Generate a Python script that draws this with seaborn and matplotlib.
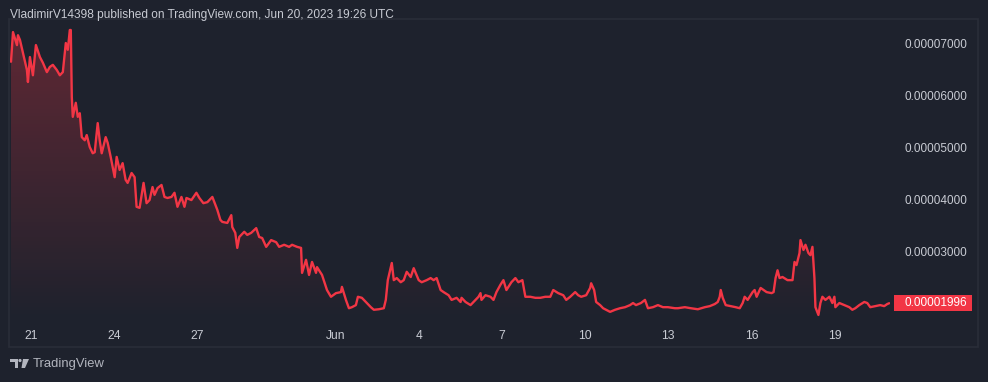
import numpy as np
import pandas as pd
import seaborn as sns
import matplotlib.pyplot as plt
from matplotlib.colors import LinearSegmentedColormap
from matplotlib.patches import Rectangle, Polygon, Circle
from matplotlib.transforms import blended_transform_factory, Affine2D

# data (days after May 21 2023, price in units of 1e-5)
start = pd.Timestamp("2023-05-21")
day_offset = [-0.719, -0.647, -0.504, -0.468, -0.396, -0.288, -0.144, -0.108, -0.036, 0.072,
              0.180, 0.324, 0.432, 0.576, 0.683, 0.791, 0.935, 1.043, 1.151, 1.259,
              1.331, 1.403, 1.439, 1.475, 1.511, 1.619, 1.691, 1.763, 1.835, 1.942,
              2.014, 2.122, 2.230, 2.302, 2.410, 2.482, 2.554, 2.698, 2.770, 2.878,
              3.022, 3.094, 3.201, 3.309, 3.417, 3.489, 3.633, 3.741, 3.813, 3.921,
              4.065, 4.173, 4.281, 4.388, 4.460, 4.568, 4.712, 4.820, 4.928, 5.072,
              5.180, 5.288, 5.432, 5.540, 5.612, 5.791, 5.971, 6.079, 6.223, 6.367,
              6.547, 6.727, 6.835, 6.906, 7.086, 7.230, 7.266, 7.374, 7.446, 7.518,
              7.698, 7.806, 7.950, 8.129, 8.237, 8.345, 8.489, 8.669, 8.849, 8.957,
              9.137, 9.317, 9.424, 9.604, 9.748, 9.784, 9.928, 10.036, 10.144, 10.288,
              10.324, 10.504, 10.683, 10.827, 11.007, 11.187, 11.223, 11.367, 11.475, 11.583,
              11.727, 11.799, 11.942, 12.086, 12.266, 12.374, 12.554, 12.734, 12.806, 12.878,
              13.022, 13.094, 13.201, 13.345, 13.453, 13.561, 13.705, 13.813, 13.993, 14.101,
              14.281, 14.424, 14.532, 14.640, 14.784, 14.892, 15.072, 15.180, 15.360, 15.504,
              15.540, 15.683, 15.863, 15.971, 16.151, 16.223, 16.259, 16.403, 16.583, 16.691,
              16.799, 16.942, 17.050, 17.158, 17.338, 17.482, 17.590, 17.734, 17.842, 18.022,
              18.201, 18.381, 18.561, 18.741, 18.849, 19.029, 19.209, 19.317, 19.460, 19.640,
              19.748, 19.856, 20.036, 20.180, 20.216, 20.324, 20.396, 20.540, 20.647, 20.755,
              20.899, 21.079, 21.259, 21.439, 21.619, 21.727, 21.835, 22.014, 22.158, 22.266,
              22.446, 22.626, 22.806, 22.986, 23.237, 23.345, 23.597, 23.813, 24.065, 24.317,
              24.496, 24.676, 24.784, 24.856, 24.892, 24.964, 25.072, 25.252, 25.432, 25.576,
              25.683, 25.755, 25.863, 25.971, 26.043, 26.115, 26.187, 26.331, 26.439, 26.547,
              26.727, 26.799, 26.871, 26.942, 27.014, 27.122, 27.302, 27.482, 27.554, 27.626,
              27.734, 27.770, 27.878, 27.950, 28.058, 28.129, 28.201, 28.273, 28.309, 28.417,
              28.489, 28.561, 28.669, 28.813, 28.921, 28.993, 29.029, 29.173, 29.353, 29.532,
              29.640, 29.748, 29.892, 30.072, 30.180, 30.288, 30.468, 30.647, 30.791, 30.899,
              30.971]
price_e5 = [6.64, 7.21, 6.96, 7.15, 7.06, 6.81, 6.48, 6.25, 6.73, 6.38,
            6.96, 6.73, 6.62, 6.44, 6.54, 6.58, 6.48, 6.38, 6.44, 7.00,
            6.87, 7.25, 7.25, 5.96, 5.58, 5.85, 5.58, 5.65, 5.19, 5.13,
            5.23, 5.00, 4.88, 4.90, 5.46, 5.13, 4.88, 5.19, 5.08, 4.81,
            4.42, 4.81, 4.56, 4.69, 4.37, 4.31, 4.50, 4.42, 3.85, 3.83,
            4.31, 3.92, 3.98, 4.23, 4.08, 4.21, 4.27, 4.04, 4.02, 4.04,
            4.12, 3.85, 4.04, 3.85, 4.02, 3.98, 4.12, 4.02, 3.92, 3.94,
            4.04, 3.79, 3.60, 3.56, 3.54, 3.69, 3.46, 3.35, 3.06, 3.27,
            3.37, 3.31, 3.35, 3.44, 3.27, 3.25, 3.08, 3.21, 3.17, 3.08,
            3.12, 3.08, 3.12, 3.08, 3.06, 2.58, 2.83, 2.54, 2.79, 2.58,
            2.69, 2.54, 2.25, 2.12, 2.19, 2.21, 2.31, 2.06, 1.90, 1.92,
            1.96, 2.12, 2.10, 2.02, 1.92, 1.87, 1.88, 1.90, 2.06, 2.44,
            2.77, 2.44, 2.48, 2.40, 2.44, 2.60, 2.50, 2.67, 2.44, 2.40,
            2.44, 2.48, 2.44, 2.48, 2.25, 2.21, 2.15, 2.06, 2.10, 2.02,
            2.10, 2.02, 1.96, 2.02, 2.12, 2.19, 2.06, 2.15, 2.12, 2.06,
            2.21, 2.35, 2.44, 2.25, 2.40, 2.48, 2.40, 2.44, 2.12, 2.12,
            2.10, 2.10, 2.12, 2.12, 2.25, 2.19, 2.15, 2.06, 2.12, 2.21,
            2.15, 2.12, 2.15, 2.29, 2.38, 2.25, 2.02, 1.96, 1.90, 1.87,
            1.83, 1.87, 1.90, 1.92, 1.96, 2.00, 1.96, 2.00, 2.06, 1.90,
            1.92, 1.96, 1.92, 1.92, 1.90, 1.90, 1.92, 1.90, 1.88, 1.92,
            1.94, 1.98, 2.02, 2.12, 2.25, 2.10, 1.96, 1.94, 1.92, 1.90,
            2.00, 2.12, 2.06, 2.15, 2.21, 2.25, 2.12, 2.29, 2.25, 2.21,
            2.19, 2.21, 2.48, 2.63, 2.48, 2.50, 2.44, 2.44, 2.79, 2.73,
            2.96, 3.21, 3.02, 3.12, 2.96, 2.92, 3.08, 2.48, 1.92, 1.77,
            2.00, 2.12, 2.06, 2.12, 2.00, 2.12, 1.92, 2.00, 1.96, 1.92,
            1.87, 1.90, 1.96, 2.02, 2.00, 1.92, 1.94, 1.96, 1.94, 1.98,
            1.996]
price_ticks = [0.00003, 0.00004, 0.00005, 0.00006, 0.00007]
date_ticks = ["2023-05-21", "2023-05-24", "2023-05-27", "2023-06-01", "2023-06-04",
              "2023-06-07", "2023-06-10", "2023-06-13", "2023-06-16", "2023-06-19"]
date_labels = ["21", "24", "27", "Jun", "4", "7", "10", "13", "16", "19"]
last_price = 0.00001996
title = "VladimirV14398 published on TradingView.com, Jun 20, 2023 19:26 UTC"

df = pd.DataFrame({
    "time": start + pd.to_timedelta(day_offset, unit="D"),
    "price": np.array(price_e5) * 1e-5,
})

bg = "#1e222d"
red = "#f23645"
txt = "#c8cbd3"

sns.set_theme(style="dark", rc={"axes.facecolor": bg, "figure.facecolor": bg})
plt.rcParams["font.family"] = ["Liberation Sans", "DejaVu Sans"]

W, H = 988, 382
fig = plt.figure(figsize=(W / 100, H / 100), dpi=100)
ax = fig.add_axes([10 / W, (H - 322) / H, 880 / W, 300 / H])
ax.set_facecolor(bg)

sns.lineplot(data=df, x="time", y="price", ax=ax, color=red, linewidth=1.7, zorder=3)

xmin = start - pd.Timedelta(days=0.755)
xmax = start + pd.Timedelta(days=31.0)
ymin, ymax = 1.635e-5, 7.404e-5
ax.set_xlim(xmin, xmax)
ax.set_ylim(ymin, ymax)

# gradient area under the line
poly = ax.fill_between(df["time"], df["price"], ymin, color="none", lw=0)
cmap = LinearSegmentedColormap.from_list("g", [(0.95, 0.21, 0.27, 0.0), (0.95, 0.21, 0.27, 0.32)])
grad = np.linspace(0, 1, 256).reshape(-1, 1)
x0, x1 = ax.get_xlim()
img = ax.imshow(grad, cmap=cmap, aspect="auto", origin="lower",
                extent=[x0, x1, ymin, ymax], zorder=2)
img.set_clip_path(poly.get_paths()[0], transform=ax.transData)
ax.set_xlim(xmin, xmax)
ax.set_ylim(ymin, ymax)

ax.set_xticks(pd.to_datetime(date_ticks))
ax.set_xticklabels(date_labels)
ax.yaxis.tick_right()
ax.set_yticks(price_ticks)
ax.set_yticklabels([f"{v:.8f}" for v in price_ticks])
ax.tick_params(axis="x", length=0, pad=6, labelsize=8.7, colors=txt)
ax.tick_params(axis="y", length=0, pad=10.5, labelsize=8.5, colors=txt)
ax.set_xlabel("")
ax.set_ylabel("")
ax.grid(False)
for s in ax.spines.values():
    s.set_visible(False)

# last price label
tr = blended_transform_factory(ax.transAxes, ax.transData)
box_h = 16 / 300 * (ymax - ymin)
ax.add_patch(Rectangle((1 + 4 / 880, last_price - box_h / 2), 78 / 880, box_h, transform=tr,
                       fc=red, ec="none", clip_on=False, zorder=4))
ax.text(1 + 14 / 880, last_price, f"{last_price:.8f}", transform=tr, ha="left", va="center",
        fontsize=8.5, color="white", clip_on=False, zorder=5)

# outer frame
px = Affine2D().scale(1 / W, 1 / H) + fig.transFigure
fig.patches.append(Rectangle((9, H - 347), 969, 328, fill=False, ec="#2a2e39", lw=1.2,
                             transform=px))

fig.text(10 / W, (H - 15) / H, title, ha="left", va="center", fontsize=8.6, color="#c8cbd3")

# TradingView logo
logo_c = "#b2b5be"
fig.patches.append(Polygon([(10, H - 359), (18, H - 359), (18, H - 368), (15, H - 368),
                            (15, H - 362), (10, H - 362)], closed=True, fc=logo_c, ec="none",
                           transform=px))
fig.patches.append(Circle((20, H - 360.5), 1.6, fc=logo_c, ec="none", transform=px))
fig.patches.append(Polygon([(23, H - 359), (29, H - 359), (25, H - 368), (21.5, H - 368)],
                           closed=True, fc=logo_c, ec="none", transform=px))
fig.text(33 / W, (H - 364) / H, "TradingView", ha="left", va="center", fontsize=9.4,
         color=logo_c)

fig.savefig("out.png", dpi=100, facecolor=bg)
